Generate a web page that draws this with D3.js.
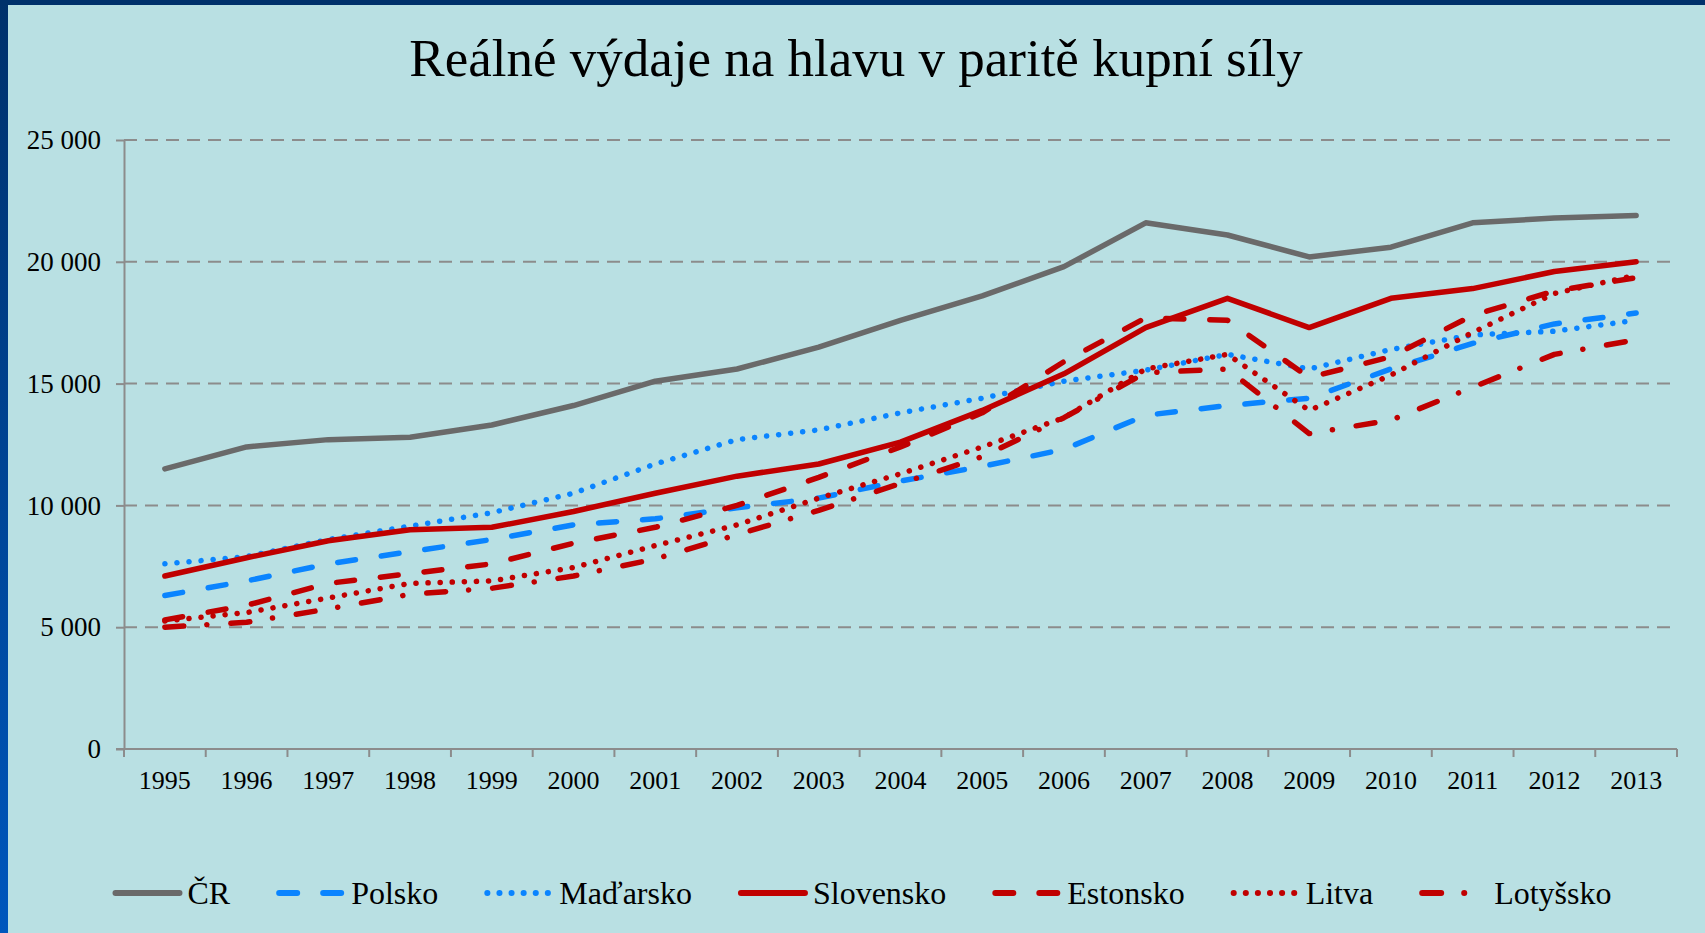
<!DOCTYPE html>
<html>
<head>
<meta charset="utf-8">
<script src="https://cdn.jsdelivr.net/npm/d3@7"></script>
<style>
  html, body { margin: 0; padding: 0; background: #B9E0E3; }
  svg { display: block; }
  text { font-family: "Liberation Serif", "Times New Roman", serif; fill: #000; }
</style>
</head>
<body>
<svg id="chart" width="1705" height="933"></svg>
<script>
// data
years = ["1995","1996","1997","1998","1999","2000","2001","2002","2003","2004","2005","2006","2007","2008","2009","2010","2011","2012","2013"];
cr        = [11500,12400,12700,12800,13300,14100,15100,15600,16500,17600,18600,19800,21600,21100,20200,20600,21600,21800,21900];
polsko    = [6300,6900,7600,8100,8600,9200,9450,9900,10300,11000,11600,12300,13700,14100,14400,15600,16650,17450,17900];
madarsko  = [7600,7900,8600,9150,9700,10500,11700,12700,13100,13800,14400,15100,15550,16200,15600,16400,17000,17150,17600];
slovensko = [7100,7850,8550,9000,9100,9750,10500,11200,11700,12600,13900,15400,17300,18500,17300,18500,18900,19600,20000];
estonsko  = [5300,5900,6800,7200,7600,8450,9100,10000,11150,12400,13800,15900,17700,17600,15250,16100,17800,18800,19350];
litva     = [5250,5600,6200,6800,6900,7450,8350,9200,10300,11300,12400,13600,15600,16200,13900,15350,17100,18700,19450];
lotyssko  = [5000,5200,5750,6350,6600,7100,7800,8800,9800,10900,12000,13600,15450,15600,12950,13500,14850,16200,16800];
yTicks = [0,5000,10000,15000,20000,25000];

series = [
    {name: "ČR",        values: cr,        color: "#6A6A6A", dash: null},
    {name: "Polsko",    values: polsko,    color: "#0A84FF", dash: "18,26"},
    {name: "Maďarsko",  values: madarsko,  color: "#0A84FF", dash: "0.1,12"},
    {name: "Slovensko", values: slovensko, color: "#C00000", dash: null},
    {name: "Estonsko",  values: estonsko,  color: "#C00000", dash: "18,26"},
    {name: "Litva",     values: litva,     color: "#C00000", dash: "0.1,12"},
    {name: "Lotyšsko",  values: lotyssko,  color: "#C00000", dash: "19,23,0.1,24"}
];

var svg = d3.select("#chart");
var W = 1705, H = 933;
var plot = {left: 124, right: 1677, top: 140, bottom: 749};

// background + frame
var defs = svg.append("defs");
var grad = defs.append("linearGradient").attr("id", "frameGrad")
    .attr("x1", 0).attr("y1", 0).attr("x2", 0).attr("y2", 1);
grad.append("stop").attr("offset", "0%").attr("stop-color", "#00316B");
grad.append("stop").attr("offset", "100%").attr("stop-color", "#0057BD");

svg.append("rect").attr("width", W).attr("height", H).attr("fill", "#B9E0E3");
svg.append("rect").attr("x", 0).attr("y", 0).attr("width", 8).attr("height", H).attr("fill", "url(#frameGrad)");
svg.append("rect").attr("x", 0).attr("y", 0).attr("width", W).attr("height", 5).attr("fill", "#00316B");

// title
svg.append("text")
    .attr("x", 856).attr("y", 76)
    .attr("text-anchor", "middle")
    .style("font-size", "53px")
    .text("Reálné výdaje na hlavu v paritě kupní síly");

// scales
var x = d3.scaleBand().domain(years).range([plot.left, plot.right]).padding(0);
var y = d3.scaleLinear().domain([0, 25000]).range([plot.bottom, plot.top]);
var fmt = d3.formatLocale({decimal: ",", thousands: " ", grouping: [3], currency: ["", ""]}).format(",d");

// gridlines
svg.append("g").selectAll("line")
    .data(yTicks.filter(function(d){ return d > 0; }))
    .enter().append("line")
    .attr("x1", plot.left).attr("x2", plot.right)
    .attr("y1", function(d){ return y(d); }).attr("y2", function(d){ return y(d); })
    .attr("stroke", "#8C8C8C").attr("stroke-width", 2)
    .attr("stroke-dasharray", "13,8");

// y axis
var yAxis = d3.axisLeft(y).tickValues(yTicks).tickFormat(fmt).tickSize(8).tickPadding(15).tickSizeOuter(0);
var gy = svg.append("g").attr("transform", "translate(" + plot.left + ",0)").call(yAxis);
gy.attr("font-family", null);
gy.select(".domain").attr("stroke", "#8C8C8C").attr("stroke-width", 2);
gy.selectAll(".tick line").attr("stroke", "#8C8C8C").attr("stroke-width", 2);
gy.selectAll(".tick text").style("font-size", "27px").style("font-family", "Liberation Serif");

// x axis: labels at band centres, ticks at band edges
var xAxis = d3.axisBottom(x).tickSize(0).tickSizeOuter(0).tickPadding(0);
var gx = svg.append("g").attr("transform", "translate(0," + plot.bottom + ")").call(xAxis);
gx.attr("font-family", null);
gx.select(".domain").attr("stroke", "#8C8C8C").attr("stroke-width", 2)
    .attr("d", "M" + (plot.left - 8) + ",0H" + plot.right);
gx.selectAll(".tick text").attr("y", 40).attr("dy", null)
    .style("font-size", "26px").style("font-family", "Liberation Serif");
var edges = years.map(function(d){ return x(d); }).concat([plot.right]);
gx.append("g").selectAll("line").data(edges).enter().append("line")
    .attr("x1", function(d){ return d; }).attr("x2", function(d){ return d; })
    .attr("y1", 0).attr("y2", 8)
    .attr("stroke", "#8C8C8C").attr("stroke-width", 2);

// lines
var line = d3.line()
    .x(function(d, i){ return x(years[i]) + x.bandwidth() / 2; })
    .y(function(d){ return y(d); });

svg.append("g").selectAll("path")
    .data(series)
    .enter().append("path")
    .attr("d", function(s){ return line(s.values); })
    .attr("fill", "none")
    .attr("stroke", function(s){ return s.color; })
    .attr("stroke-width", 5.5)
    .attr("stroke-linecap", "round")
    .attr("stroke-linejoin", "round")
    .attr("stroke-dasharray", function(s){ return s.dash; });

// legend
var legendY = 893, swatch = 70, gapText = 5, gapItem = 46;
var leg = svg.append("g");
var items = leg.selectAll("g").data(series).enter().append("g");
items.append("text")
    .attr("x", swatch + gapText).attr("y", legendY + 11)
    .style("font-size", "32px")
    .text(function(s){ return s.name; });
var widths = [];
items.each(function(){ widths.push(this.querySelector("text").getComputedTextLength()); });
var total = d3.sum(widths) + series.length * (swatch + gapText) + (series.length - 1) * gapItem;
var cx = 0;
var starts = [];
widths.forEach(function(w){ starts.push(cx); cx += swatch + gapText + w + gapItem; });
var offset = 862 - total / 2;
items.attr("transform", function(s, i){ return "translate(" + (starts[i] + offset) + ",0)"; });
items.append("line")
    .attr("x1", 3).attr("x2", swatch - 3)
    .attr("y1", legendY).attr("y2", legendY)
    .attr("stroke", function(s){ return s.color; })
    .attr("stroke-width", 6)
    .attr("stroke-linecap", "round")
    .attr("stroke-dasharray", function(s){ return s.dash ? s.dash : null; });
</script>
</body>
</html>
